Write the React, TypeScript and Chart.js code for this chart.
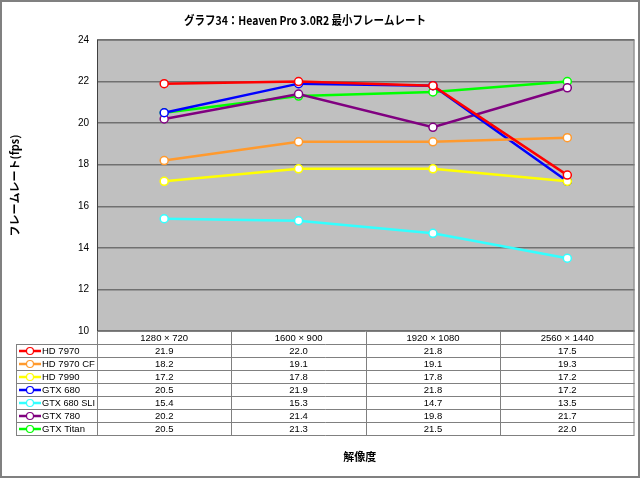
import React, { useEffect, useRef } from "react";
import { Chart, registerables } from "chart.js";

Chart.register(...registerables);

const categories = ["1280×720", "1600×900", "1920×1080", "2560×1440"];
const seriesNames = ["HD 7970", "HD 7970 CF", "HD 7990", "GTX 680", "GTX 680 SLI", "GTX 780", "GTX Titan"];
const hd7970 = [21.9, 22.0, 21.8, 17.5];
const hd7970cf = [18.2, 19.1, 19.1, 19.3];
const hd7990 = [17.2, 17.8, 17.8, 17.2];
const gtx680 = [20.5, 21.9, 21.8, 17.2];
const gtx680sli = [15.4, 15.3, 14.7, 13.5];
const gtx780 = [20.2, 21.4, 19.8, 21.7];
const gtxTitan = [20.5, 21.3, 21.5, 22.0];
const seriesColors = ["#FF0000", "#FF9A2E", "#FFFF00", "#0000FF", "#33FFFF", "#800080", "#00FF00"];
const titleText = "グラフ34：Heaven Pro 3.0R2 最小フレームレート";
const yTitle = "フレームレート(fps)";
const xTitle = "解像度";

const FONT = "'Liberation Sans', Arial, sans-serif";
const CJK = "'Noto Sans CJK JP', 'Liberation Sans', sans-serif";

const tablePlugin = {
  id: "dataTable",
  beforeDraw(chart: any) {
    const { ctx, width, height } = chart;
    ctx.save();
    ctx.fillStyle = "#FFFFFF";
    ctx.fillRect(0, 0, width, height);
    const a = chart.chartArea;
    ctx.fillStyle = "#C0C0C0";
    ctx.fillRect(a.left, a.top, a.right - a.left, a.bottom - a.top);
    ctx.restore();
  },
  afterDraw(chart: any) {
    const { ctx, width, height } = chart;
    const a = chart.chartArea;
    const xs = chart.scales.x;
    const rowH = 13;
    const legendLeft = 16;
    const datasets = chart.data.datasets;
    const colW = (a.right - a.left) / categories.length;
    ctx.save();
    ctx.strokeStyle = "#808080";
    ctx.lineWidth = 1;
    ctx.strokeRect(a.left + 0.5, a.top + 0.5, a.right - a.left - 1, a.bottom - a.top);
    ctx.strokeStyle = "#404040";
    ctx.beginPath();
    ctx.moveTo(a.left + 0.5, a.top);
    ctx.lineTo(a.left + 0.5, a.bottom);
    ctx.stroke();

    const top = a.bottom;
    const bottom = top + rowH * (datasets.length + 1);
    ctx.strokeStyle = "#808080";
    ctx.fillStyle = "#FFFFFF";
    ctx.fillRect(a.left, top, a.right - a.left, bottom - top);
    ctx.fillRect(legendLeft, top + rowH, a.left - legendLeft, bottom - top - rowH);
    ctx.beginPath();
    for (let r = 0; r <= datasets.length + 1; r++) {
      const y = Math.round(top + r * rowH) + 0.5;
      const x0 = r === 0 ? a.left : legendLeft;
      ctx.moveTo(x0, y);
      ctx.lineTo(a.right, y);
    }
    ctx.moveTo(legendLeft + 0.5, top + rowH);
    ctx.lineTo(legendLeft + 0.5, bottom + 0.5);
    for (let c = 0; c <= categories.length; c++) {
      const x = Math.round(xs.getPixelForValue(0) - colW / 2 + c * colW) + 0.5;
      const xx = c === categories.length ? a.right - 0.5 : x;
      ctx.moveTo(xx, top);
      ctx.lineTo(xx, bottom + 0.5);
    }
    ctx.stroke();

    ctx.font = `9.5px ${FONT}`;
    ctx.textBaseline = "middle";
    ctx.textAlign = "center";
    ctx.fillStyle = "#000000";
    categories.forEach((c, i) => {
      ctx.fillText(c.replace("×", " × "), xs.getPixelForValue(i), top + rowH / 2 + 0.5);
    });
    datasets.forEach((ds: any, r: number) => {
      const cy = top + rowH * (r + 1) + rowH / 2 + 0.5;
      ctx.textAlign = "center";
      ctx.fillStyle = "#000000";
      ds.data.forEach((v: number, i: number) => {
        ctx.fillText(v.toFixed(1), xs.getPixelForValue(i), cy);
      });
      ctx.strokeStyle = ds.borderColor;
      ctx.lineWidth = 2.5;
      ctx.beginPath();
      ctx.moveTo(legendLeft + 3, cy);
      ctx.lineTo(legendLeft + 25, cy);
      ctx.stroke();
      ctx.fillStyle = "#FFFFFF";
      ctx.lineWidth = 1.2;
      ctx.beginPath();
      ctx.arc(legendLeft + 14, cy, 3.5, 0, Math.PI * 2);
      ctx.fill();
      ctx.stroke();
      ctx.textAlign = "left";
      ctx.fillStyle = "#000000";
      ctx.fillText(ds.label, legendLeft + 26, cy, a.left - legendLeft - 28);
    });

    ctx.font = `bold 12px ${CJK}`;
    ctx.textAlign = "center";
    ctx.fillStyle = "#000000";
    ctx.fillText(titleText, 305, 20, 242);

    ctx.font = `bold 11px ${CJK}`;
    ctx.fillText(xTitle, (a.left + a.right) / 2 - 6, 457);

    ctx.strokeStyle = "#808080";
    ctx.lineWidth = 2;
    ctx.strokeRect(1, 1, width - 2, height - 2);
    ctx.restore();
  },
};

export default function App() {
  const ref = useRef<HTMLCanvasElement | null>(null);
  useEffect(() => {
    document.body.style.margin = "0";
    const seriesData = [hd7970, hd7970cf, hd7990, gtx680, gtx680sli, gtx780, gtxTitan];
    const chart = new Chart(ref.current as HTMLCanvasElement, {
      type: "line",
      data: {
        labels: categories,
        datasets: seriesData.map((d, i) => ({
          label: seriesNames[i],
          data: d,
          borderColor: seriesColors[i],
          backgroundColor: "#FFFFFF",
          borderWidth: 2.5,
          pointRadius: 4,
          pointBorderWidth: 1.5,
          pointBackgroundColor: "#FFFFFF",
          pointBorderColor: seriesColors[i],
          tension: 0,
        })),
      },
      options: {
        animation: false,
        responsive: false,
        devicePixelRatio: 1,
        layout: { padding: { left: 0, right: 4, top: 40, bottom: 147 } },
        plugins: {
          legend: { display: false },
          tooltip: { enabled: false },
          title: { display: false },
        },
        scales: {
          x: {
            type: "category",
            display: false,
            offset: true,
          },
          y: {
            min: 10,
            max: 24,
            ticks: {
              stepSize: 2,
              color: "#000000",
              font: { family: FONT, size: 10 },
              padding: 8,
            },
            grid: {
              color: "#707070",
              lineWidth: 1.5,
              drawTicks: false,
            },
            border: { display: false },
            title: {
              display: true,
              text: yTitle,
              color: "#000000",
              font: { family: CJK, size: 11, weight: "bold" },
              padding: { top: 8, bottom: 0 },
            },
            afterFit: (s: any) => {
              s.width = 97;
            },
          },
        },
      },
      plugins: [tablePlugin],
    } as any);
    return () => chart.destroy();
  }, []);
  return (
    <div style={{ width: 640, height: 478 }}>
      <canvas ref={ref} width={640} height={478} style={{ display: "block" }} />
    </div>
  );
}
